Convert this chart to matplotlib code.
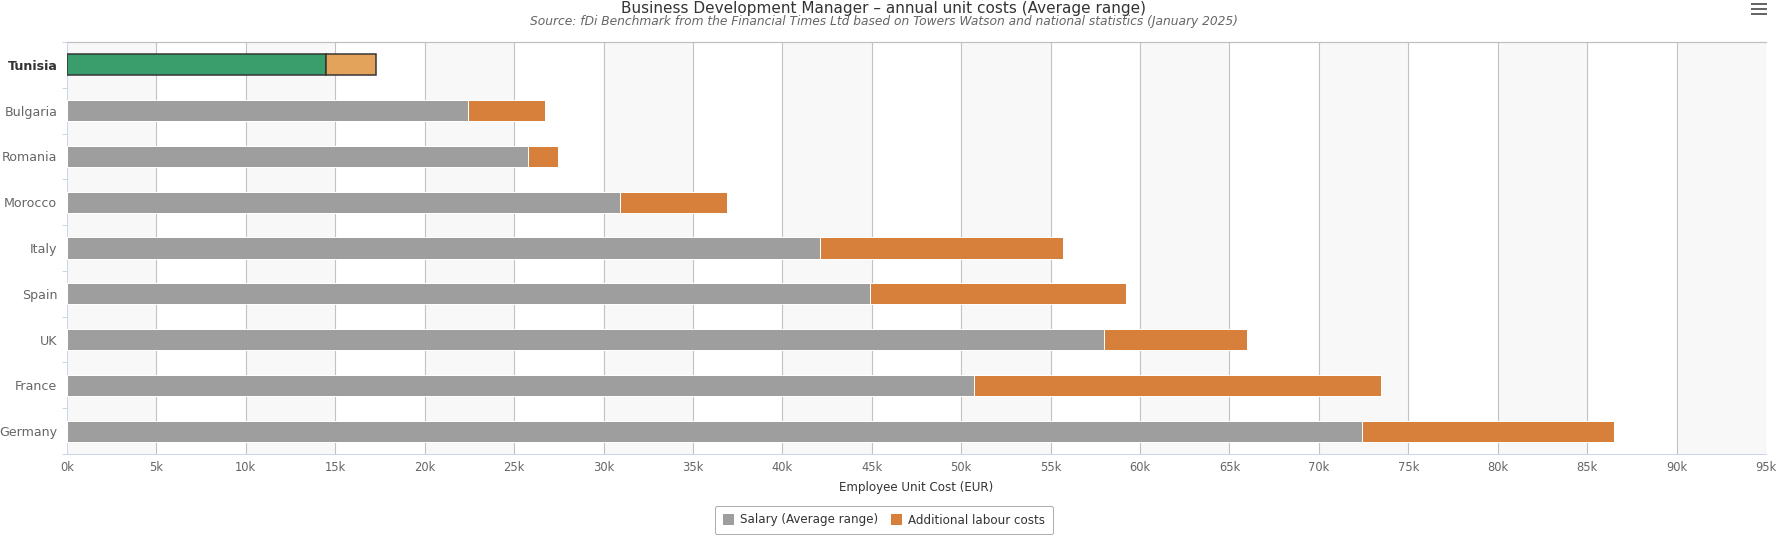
import numpy as np
import matplotlib
matplotlib.use("Agg")
import matplotlib.pyplot as plt
from matplotlib.lines import Line2D
from matplotlib.patches import Patch

countries = ['Tunisia', 'Bulgaria', 'Romania', 'Morocco', 'Italy', 'Spain', 'UK', 'France', 'Germany']
salary = [14.5, 22.4, 25.8, 30.9, 42.1, 44.9, 58.0, 50.7, 72.4]      # k EUR
extra = [2.8, 4.35, 1.65, 6.0, 13.6, 14.3, 8.0, 22.8, 14.1]          # k EUR
x_ticks = list(range(0, 100, 5))
x_labels = [str(v) + 'k' for v in x_ticks]

W, H = 1780, 536
fig = plt.figure(figsize=(W / 100, H / 100), dpi=100)
px = 72 / 100  # points per pixel

L, R, T, B = 67, 1766, 42, 454
ax = fig.add_axes([L / W, 1 - B / H, (R - L) / W, (B - T) / H])

# alternating bands
for i, v in enumerate(x_ticks):
    if i % 2 == 0:
        ax.axvspan(v, v + 5, color='#f8f8f8', zorder=0, lw=0)
for v in x_ticks[1:]:
    ax.axvline(v, color='#c2c2c2', lw=1.1 * px, zorder=1)

y = np.arange(len(countries))
sal_col = ['#3a9e6c'] + ['#9e9e9e'] * (len(countries) - 1)
ext_col = ['#e3a35a'] + ['#d6803c'] * (len(countries) - 1)
edge = ['#333333'] + ['white'] * (len(countries) - 1)
lws = [1.5 * px] + [1 * px] * (len(countries) - 1)
h = 0.46
ax.barh(y, salary, height=h, color=sal_col, edgecolor=edge, linewidth=lws, zorder=3)
ax.barh(y, extra, left=salary, height=h, color=ext_col, edgecolor=edge, linewidth=lws, zorder=3)

ax.set_xlim(0, 95)
ax.set_ylim(len(countries) - 0.5, -0.5)
ax.set_xticks(x_ticks)
ax.set_xticklabels(x_labels)
ax.tick_params(axis='x', length=0, pad=5, labelsize=8.3, labelcolor='#666666')
ax.set_yticks(y)
ax.set_yticklabels(countries)
ax.set_yticks(np.arange(-0.5, len(countries), 1), minor=True)
ax.tick_params(axis='y', which='major', length=0, pad=7, labelsize=9.1, labelcolor='#666666')
ax.tick_params(axis='y', which='minor', length=5 * px, width=1 * px, color='#ccd6eb')
ax.get_yticklabels()[0].set_fontweight('bold')
ax.get_yticklabels()[0].set_color('#333333')

ax.spines['right'].set_visible(False)
ax.spines['top'].set_color('#c0c0c0')
ax.spines['top'].set_linewidth(1.2 * px)
ax.spines['left'].set_color('#ccd6eb')
ax.spines['bottom'].set_color('#ccd6eb')
ax.spines['left'].set_linewidth(1 * px)
ax.spines['bottom'].set_linewidth(1 * px)

ax.set_xlabel('Employee Unit Cost (EUR)', fontsize=8.6, color='#333333', labelpad=5)

fig.text(0.4966, 1 - 8 / H, 'Business Development Manager \u2013 annual unit costs (Average range)',
         ha='center', va='center', fontsize=11, color='#333333')
fig.text(0.4966, 1 - 22 / H,
         'Source: fDi Benchmark from the Financial Times Ltd based on Towers Watson and national statistics (January 2025)',
         ha='center', va='center', fontsize=8.8, style='italic', color='#666666')

# menu icon
for yy in [3.5, 8.5, 13.5]:
    fig.add_artist(Line2D([1751 / W, 1767 / W], [1 - yy / H, 1 - yy / H], color='#666666', lw=2 * px,
                          solid_capstyle='butt'))

handles = [Patch(facecolor='#9e9e9e', edgecolor='none'), Patch(facecolor='#d6803c', edgecolor='none')]
leg = fig.legend(handles, ['Salary (Average range)', 'Additional labour costs'], loc='center',
                 bbox_to_anchor=(884 / W, 1 - 520 / H), ncol=2, frameon=True, fancybox=True,
                 edgecolor='#999999', fontsize=8.6, handlelength=1.0, handleheight=1.0,
                 columnspacing=1.0, handletextpad=0.5, borderpad=0.65, labelcolor='#333333')
leg.get_frame().set_linewidth(1 * px)

fig.savefig('out.png', dpi=100)
